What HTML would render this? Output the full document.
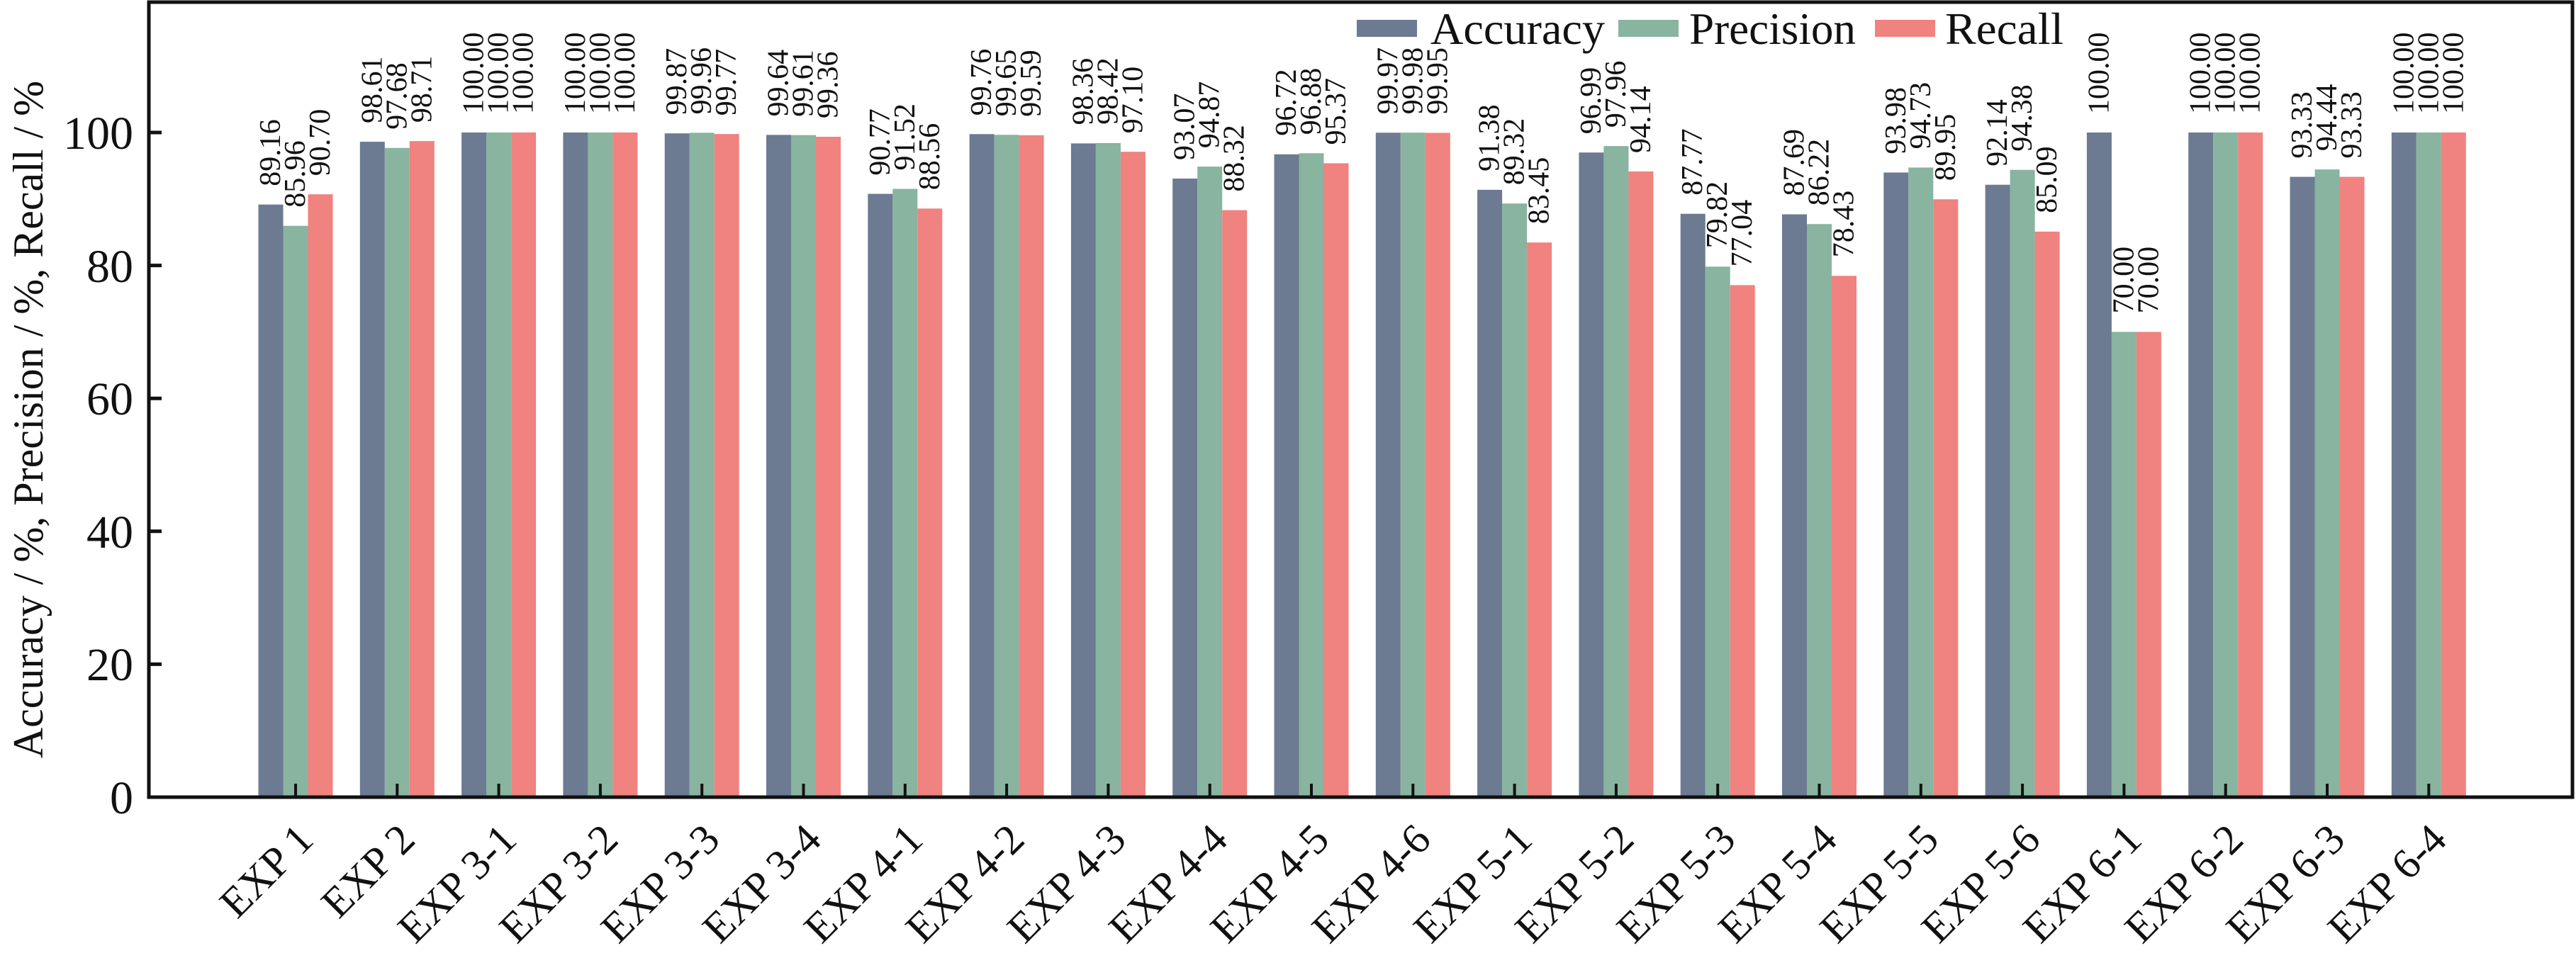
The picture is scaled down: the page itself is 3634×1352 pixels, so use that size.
<!DOCTYPE html>
<html><head><meta charset="utf-8"><style>
html,body{margin:0;padding:0;background:#fff}
svg{display:block}
text{font-family:"Liberation Serif","Times New Roman",serif;fill:#111}
.v{font-size:42px}
.t{font-size:66px}
.x{font-size:60px}
.a{fill:#6c7a92}.p{fill:#88b4a0}.r{fill:#f0827f}
</style></head><body>
<svg width="3634" height="1352" viewBox="0 0 3634 1352" xmlns="http://www.w3.org/2000/svg">
<rect width="3634" height="1352" fill="#fff"/>
<g transform="translate(417,1125) scale(1,-9.38)"><rect class="a" x="-52.5" y="0" width="35" height="89.16"/><rect class="p" x="-17.5" y="0" width="35" height="85.96"/><rect class="r" x="17.5" y="0" width="35" height="90.70"/></g>
<g transform="translate(560.3,1125) scale(1,-9.38)"><rect class="a" x="-52.5" y="0" width="35" height="98.61"/><rect class="p" x="-17.5" y="0" width="35" height="97.68"/><rect class="r" x="17.5" y="0" width="35" height="98.71"/></g>
<g transform="translate(703.6,1125) scale(1,-9.38)"><rect class="a" x="-52.5" y="0" width="35" height="100"/><rect class="p" x="-17.5" y="0" width="35" height="100"/><rect class="r" x="17.5" y="0" width="35" height="100"/></g>
<g transform="translate(846.9,1125) scale(1,-9.38)"><rect class="a" x="-52.5" y="0" width="35" height="100"/><rect class="p" x="-17.5" y="0" width="35" height="100"/><rect class="r" x="17.5" y="0" width="35" height="100"/></g>
<g transform="translate(990.2,1125) scale(1,-9.38)"><rect class="a" x="-52.5" y="0" width="35" height="99.87"/><rect class="p" x="-17.5" y="0" width="35" height="99.96"/><rect class="r" x="17.5" y="0" width="35" height="99.77"/></g>
<g transform="translate(1133.5,1125) scale(1,-9.38)"><rect class="a" x="-52.5" y="0" width="35" height="99.64"/><rect class="p" x="-17.5" y="0" width="35" height="99.61"/><rect class="r" x="17.5" y="0" width="35" height="99.36"/></g>
<g transform="translate(1276.8,1125) scale(1,-9.38)"><rect class="a" x="-52.5" y="0" width="35" height="90.77"/><rect class="p" x="-17.5" y="0" width="35" height="91.52"/><rect class="r" x="17.5" y="0" width="35" height="88.56"/></g>
<g transform="translate(1420.1,1125) scale(1,-9.38)"><rect class="a" x="-52.5" y="0" width="35" height="99.76"/><rect class="p" x="-17.5" y="0" width="35" height="99.65"/><rect class="r" x="17.5" y="0" width="35" height="99.59"/></g>
<g transform="translate(1563.4,1125) scale(1,-9.38)"><rect class="a" x="-52.5" y="0" width="35" height="98.36"/><rect class="p" x="-17.5" y="0" width="35" height="98.42"/><rect class="r" x="17.5" y="0" width="35" height="97.10"/></g>
<g transform="translate(1706.7,1125) scale(1,-9.38)"><rect class="a" x="-52.5" y="0" width="35" height="93.07"/><rect class="p" x="-17.5" y="0" width="35" height="94.87"/><rect class="r" x="17.5" y="0" width="35" height="88.32"/></g>
<g transform="translate(1850,1125) scale(1,-9.38)"><rect class="a" x="-52.5" y="0" width="35" height="96.72"/><rect class="p" x="-17.5" y="0" width="35" height="96.88"/><rect class="r" x="17.5" y="0" width="35" height="95.37"/></g>
<g transform="translate(1993.3,1125) scale(1,-9.38)"><rect class="a" x="-52.5" y="0" width="35" height="99.97"/><rect class="p" x="-17.5" y="0" width="35" height="99.98"/><rect class="r" x="17.5" y="0" width="35" height="99.95"/></g>
<g transform="translate(2136.6,1125) scale(1,-9.38)"><rect class="a" x="-52.5" y="0" width="35" height="91.38"/><rect class="p" x="-17.5" y="0" width="35" height="89.32"/><rect class="r" x="17.5" y="0" width="35" height="83.45"/></g>
<g transform="translate(2279.9,1125) scale(1,-9.38)"><rect class="a" x="-52.5" y="0" width="35" height="96.99"/><rect class="p" x="-17.5" y="0" width="35" height="97.96"/><rect class="r" x="17.5" y="0" width="35" height="94.14"/></g>
<g transform="translate(2423.2,1125) scale(1,-9.38)"><rect class="a" x="-52.5" y="0" width="35" height="87.77"/><rect class="p" x="-17.5" y="0" width="35" height="79.82"/><rect class="r" x="17.5" y="0" width="35" height="77.04"/></g>
<g transform="translate(2566.5,1125) scale(1,-9.38)"><rect class="a" x="-52.5" y="0" width="35" height="87.69"/><rect class="p" x="-17.5" y="0" width="35" height="86.22"/><rect class="r" x="17.5" y="0" width="35" height="78.43"/></g>
<g transform="translate(2709.8,1125) scale(1,-9.38)"><rect class="a" x="-52.5" y="0" width="35" height="93.98"/><rect class="p" x="-17.5" y="0" width="35" height="94.73"/><rect class="r" x="17.5" y="0" width="35" height="89.95"/></g>
<g transform="translate(2853.1,1125) scale(1,-9.38)"><rect class="a" x="-52.5" y="0" width="35" height="92.14"/><rect class="p" x="-17.5" y="0" width="35" height="94.38"/><rect class="r" x="17.5" y="0" width="35" height="85.09"/></g>
<g transform="translate(2996.4,1125) scale(1,-9.38)"><rect class="a" x="-52.5" y="0" width="35" height="100"/><rect class="p" x="-17.5" y="0" width="35" height="70"/><rect class="r" x="17.5" y="0" width="35" height="70"/></g>
<g transform="translate(3139.7,1125) scale(1,-9.38)"><rect class="a" x="-52.5" y="0" width="35" height="100"/><rect class="p" x="-17.5" y="0" width="35" height="100"/><rect class="r" x="17.5" y="0" width="35" height="100"/></g>
<g transform="translate(3283,1125) scale(1,-9.38)"><rect class="a" x="-52.5" y="0" width="35" height="93.33"/><rect class="p" x="-17.5" y="0" width="35" height="94.44"/><rect class="r" x="17.5" y="0" width="35" height="93.33"/></g>
<g transform="translate(3426.3,1125) scale(1,-9.38)"><rect class="a" x="-52.5" y="0" width="35" height="100"/><rect class="p" x="-17.5" y="0" width="35" height="100"/><rect class="r" x="17.5" y="0" width="35" height="100"/></g>

<g class="v">
<g transform="translate(417,0)"><text transform="translate(-22,262.7) rotate(-90)">89.16</text><text transform="translate(13,292.7) rotate(-90)">85.96</text><text transform="translate(48,248.2) rotate(-90)">90.70</text></g>
<g transform="translate(560.3,0)"><text transform="translate(-22,174) rotate(-90)">98.61</text><text transform="translate(13,182.8) rotate(-90)">97.68</text><text transform="translate(48,173.1) rotate(-90)">98.71</text></g>
<g transform="translate(703.6,0)"><text transform="translate(-22,161) rotate(-90)">100.00</text><text transform="translate(13,161) rotate(-90)">100.00</text><text transform="translate(48,161) rotate(-90)">100.00</text></g>
<g transform="translate(846.9,0)"><text transform="translate(-22,161) rotate(-90)">100.00</text><text transform="translate(13,161) rotate(-90)">100.00</text><text transform="translate(48,161) rotate(-90)">100.00</text></g>
<g transform="translate(990.2,0)"><text transform="translate(-22,162.2) rotate(-90)">99.87</text><text transform="translate(13,161.4) rotate(-90)">99.96</text><text transform="translate(48,163.2) rotate(-90)">99.77</text></g>
<g transform="translate(1133.5,0)"><text transform="translate(-22,164.4) rotate(-90)">99.64</text><text transform="translate(13,164.7) rotate(-90)">99.61</text><text transform="translate(48,167) rotate(-90)">99.36</text></g>
<g transform="translate(1276.8,0)"><text transform="translate(-22,247.6) rotate(-90)">90.77</text><text transform="translate(13,240.5) rotate(-90)">91.52</text><text transform="translate(48,268.3) rotate(-90)">88.56</text></g>
<g transform="translate(1420.1,0)"><text transform="translate(-22,163.3) rotate(-90)">99.76</text><text transform="translate(13,164.3) rotate(-90)">99.65</text><text transform="translate(48,164.8) rotate(-90)">99.59</text></g>
<g transform="translate(1563.4,0)"><text transform="translate(-22,176.4) rotate(-90)">98.36</text><text transform="translate(13,175.8) rotate(-90)">98.42</text><text transform="translate(48,188.2) rotate(-90)">97.10</text></g>
<g transform="translate(1706.7,0)"><text transform="translate(-22,226) rotate(-90)">93.07</text><text transform="translate(13,209.1) rotate(-90)">94.87</text><text transform="translate(48,270.6) rotate(-90)">88.32</text></g>
<g transform="translate(1850,0)"><text transform="translate(-22,191.8) rotate(-90)">96.72</text><text transform="translate(13,190.3) rotate(-90)">96.88</text><text transform="translate(48,204.4) rotate(-90)">95.37</text></g>
<g transform="translate(1993.3,0)"><text transform="translate(-22,161.3) rotate(-90)">99.97</text><text transform="translate(13,161.2) rotate(-90)">99.98</text><text transform="translate(48,161.5) rotate(-90)">99.95</text></g>
<g transform="translate(2136.6,0)"><text transform="translate(-22,241.9) rotate(-90)">91.38</text><text transform="translate(13,261.2) rotate(-90)">89.32</text><text transform="translate(48,316.2) rotate(-90)">83.45</text></g>
<g transform="translate(2279.9,0)"><text transform="translate(-22,189.2) rotate(-90)">96.99</text><text transform="translate(13,180.1) rotate(-90)">97.96</text><text transform="translate(48,216) rotate(-90)">94.14</text></g>
<g transform="translate(2423.2,0)"><text transform="translate(-22,275.7) rotate(-90)">87.77</text><text transform="translate(13,350.3) rotate(-90)">79.82</text><text transform="translate(48,376.4) rotate(-90)">77.04</text></g>
<g transform="translate(2566.5,0)"><text transform="translate(-22,276.5) rotate(-90)">87.69</text><text transform="translate(13,290.3) rotate(-90)">86.22</text><text transform="translate(48,363.3) rotate(-90)">78.43</text></g>
<g transform="translate(2709.8,0)"><text transform="translate(-22,217.5) rotate(-90)">93.98</text><text transform="translate(13,210.4) rotate(-90)">94.73</text><text transform="translate(48,255.3) rotate(-90)">89.95</text></g>
<g transform="translate(2853.1,0)"><text transform="translate(-22,234.7) rotate(-90)">92.14</text><text transform="translate(13,213.7) rotate(-90)">94.38</text><text transform="translate(48,300.9) rotate(-90)">85.09</text></g>
<g transform="translate(2996.4,0)"><text transform="translate(-22,161) rotate(-90)">100.00</text><text transform="translate(13,442.4) rotate(-90)">70.00</text><text transform="translate(48,442.4) rotate(-90)">70.00</text></g>
<g transform="translate(3139.7,0)"><text transform="translate(-22,161) rotate(-90)">100.00</text><text transform="translate(13,161) rotate(-90)">100.00</text><text transform="translate(48,161) rotate(-90)">100.00</text></g>
<g transform="translate(3283,0)"><text transform="translate(-22,223.6) rotate(-90)">93.33</text><text transform="translate(13,213.1) rotate(-90)">94.44</text><text transform="translate(48,223.6) rotate(-90)">93.33</text></g>
<g transform="translate(3426.3,0)"><text transform="translate(-22,161) rotate(-90)">100.00</text><text transform="translate(13,161) rotate(-90)">100.00</text><text transform="translate(48,161) rotate(-90)">100.00</text></g>
</g>

<rect x="210" y="3" width="3419" height="1122" fill="none" stroke="#111" stroke-width="5"/>
<g stroke="#111" stroke-width="5">
<line x1="210" y1="1125" x2="228" y2="1125"/>
<line x1="210" y1="937.4" x2="228" y2="937.4"/>
<line x1="210" y1="749.8" x2="228" y2="749.8"/>
<line x1="210" y1="562.2" x2="228" y2="562.2"/>
<line x1="210" y1="374.6" x2="228" y2="374.6"/>
<line x1="210" y1="187" x2="228" y2="187"/>
</g>
<g stroke="#111" stroke-width="4">
<line x1="417" y1="1125" x2="417" y2="1106"/><line x1="560.3" y1="1125" x2="560.3" y2="1106"/><line x1="703.6" y1="1125" x2="703.6" y2="1106"/><line x1="846.9" y1="1125" x2="846.9" y2="1106"/><line x1="990.2" y1="1125" x2="990.2" y2="1106"/><line x1="1133.5" y1="1125" x2="1133.5" y2="1106"/><line x1="1276.8" y1="1125" x2="1276.8" y2="1106"/><line x1="1420.1" y1="1125" x2="1420.1" y2="1106"/><line x1="1563.4" y1="1125" x2="1563.4" y2="1106"/><line x1="1706.7" y1="1125" x2="1706.7" y2="1106"/><line x1="1850" y1="1125" x2="1850" y2="1106"/><line x1="1993.3" y1="1125" x2="1993.3" y2="1106"/><line x1="2136.6" y1="1125" x2="2136.6" y2="1106"/><line x1="2279.9" y1="1125" x2="2279.9" y2="1106"/><line x1="2423.2" y1="1125" x2="2423.2" y2="1106"/><line x1="2566.5" y1="1125" x2="2566.5" y2="1106"/><line x1="2709.8" y1="1125" x2="2709.8" y2="1106"/><line x1="2853.1" y1="1125" x2="2853.1" y2="1106"/><line x1="2996.4" y1="1125" x2="2996.4" y2="1106"/><line x1="3139.7" y1="1125" x2="3139.7" y2="1106"/><line x1="3283" y1="1125" x2="3283" y2="1106"/><line x1="3426.3" y1="1125" x2="3426.3" y2="1106"/>
</g>
<g class="t" text-anchor="end">
<text x="188" y="1148">0</text>
<text x="188" y="960">20</text>
<text x="188" y="773">40</text>
<text x="188" y="585">60</text>
<text x="188" y="398">80</text>
<text x="188" y="210">100</text>
</g>
<text style="font-size:60px" text-anchor="middle" transform="translate(60,592) rotate(-90)">Accuracy / %, Precision / %, Recall / %</text>
<g class="x" text-anchor="end">
<text transform="translate(445,1188) rotate(-45)">EXP 1</text>
<text transform="translate(588.3,1188) rotate(-45)">EXP 2</text>
<text transform="translate(731.6,1188) rotate(-45)">EXP 3-1</text>
<text transform="translate(874.9,1188) rotate(-45)">EXP 3-2</text>
<text transform="translate(1018.2,1188) rotate(-45)">EXP 3-3</text>
<text transform="translate(1161.5,1188) rotate(-45)">EXP 3-4</text>
<text transform="translate(1304.8,1188) rotate(-45)">EXP 4-1</text>
<text transform="translate(1448.1,1188) rotate(-45)">EXP 4-2</text>
<text transform="translate(1591.4,1188) rotate(-45)">EXP 4-3</text>
<text transform="translate(1734.7,1188) rotate(-45)">EXP 4-4</text>
<text transform="translate(1878,1188) rotate(-45)">EXP 4-5</text>
<text transform="translate(2021.3,1188) rotate(-45)">EXP 4-6</text>
<text transform="translate(2164.6,1188) rotate(-45)">EXP 5-1</text>
<text transform="translate(2307.9,1188) rotate(-45)">EXP 5-2</text>
<text transform="translate(2451.2,1188) rotate(-45)">EXP 5-3</text>
<text transform="translate(2594.5,1188) rotate(-45)">EXP 5-4</text>
<text transform="translate(2737.8,1188) rotate(-45)">EXP 5-5</text>
<text transform="translate(2881.1,1188) rotate(-45)">EXP 5-6</text>
<text transform="translate(3024.4,1188) rotate(-45)">EXP 6-1</text>
<text transform="translate(3167.7,1188) rotate(-45)">EXP 6-2</text>
<text transform="translate(3311,1188) rotate(-45)">EXP 6-3</text>
<text transform="translate(3454.3,1188) rotate(-45)">EXP 6-4</text>
</g>
<rect class="a" x="1914" y="28" width="85" height="24"/>
<text x="2018" y="62" style="font-size:64px" textLength="246" lengthAdjust="spacingAndGlyphs">Accuracy</text>
<rect class="p" x="2283" y="28" width="85" height="24"/>
<text x="2383" y="62" style="font-size:64px" textLength="235" lengthAdjust="spacingAndGlyphs">Precision</text>
<rect class="r" x="2645" y="28" width="85" height="24"/>
<text x="2744" y="62" style="font-size:64px" textLength="167" lengthAdjust="spacingAndGlyphs">Recall</text>
</svg>
</body></html>
